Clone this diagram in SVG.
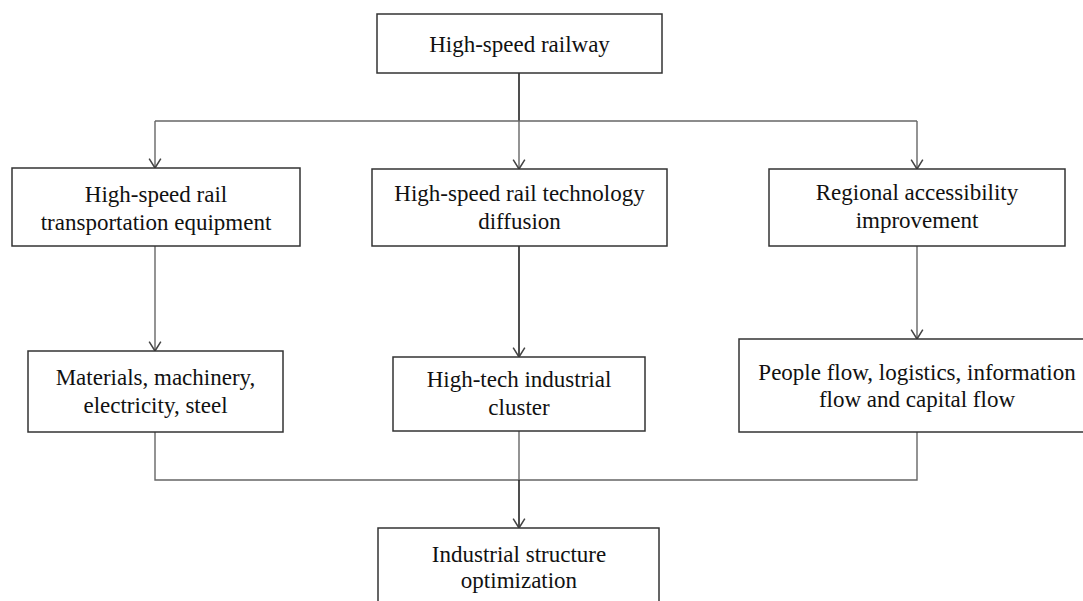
<svg xmlns="http://www.w3.org/2000/svg" width="1083" height="601" viewBox="0 0 1083 601">
<style>
.box{fill:#fff;stroke:#333;stroke-width:1.5}
.t{font-family:"Liberation Serif","Times New Roman",serif;font-size:23px;fill:#111;text-anchor:middle}
.c{fill:none;stroke:#666;stroke-width:1.4}
.d{fill:none;stroke:#222;stroke-width:1.6}
</style>
<defs>
<marker id="ah" markerUnits="userSpaceOnUse" markerWidth="14" markerHeight="14" viewBox="-8 -6 10 12" refX="0" refY="0" orient="auto">
<path d="M-8,-5 L0,0 L-8,5" fill="none" stroke="#444" stroke-width="1.3"/>
</marker>
</defs>
<rect width="1083" height="601" fill="#fff"/>
<g id="connectors">
<path class="d" d="M519,73 V121"/>
<path class="c" d="M155,121 H917"/>
<path class="c" d="M155,121 V168" marker-end="url(#ah)"/>
<path class="c" d="M519,121 V169" marker-end="url(#ah)"/>
<path class="c" d="M917,121 V169" marker-end="url(#ah)"/>
<path class="c" d="M155,246 V351" marker-end="url(#ah)"/>
<path class="d" d="M519,246 V357" marker-end="url(#ah)"/>
<path class="c" d="M917,246 V339" marker-end="url(#ah)"/>
<path class="c" d="M155,432 V480 H917 V432"/>
<path class="c" d="M519,431 V480"/>
<path class="d" d="M519,480 V528" marker-end="url(#ah)"/>
</g>
<g id="n-hsr"><rect class="box" x="377" y="14" width="285" height="59"/><text class="t" x="519.5" y="52">High-speed railway</text></g>
<g id="n-equip"><rect class="box" x="12" y="168" width="288" height="78"/><text class="t" x="156" y="202">High-speed rail</text><text class="t" x="156" y="230">transportation equipment</text></g>
<g id="n-tech"><rect class="box" x="372" y="169" width="295" height="77"/><text class="t" x="519.5" y="201">High-speed rail technology</text><text class="t" x="519.5" y="229">diffusion</text></g>
<g id="n-access"><rect class="box" x="769" y="169" width="296" height="77"/><text class="t" x="917" y="200">Regional accessibility</text><text class="t" x="917" y="228">improvement</text></g>
<g id="n-materials"><rect class="box" x="28" y="351" width="255" height="81"/><text class="t" x="155.5" y="385">Materials, machinery,</text><text class="t" x="155.5" y="413">electricity, steel</text></g>
<g id="n-cluster"><rect class="box" x="393" y="357" width="252" height="74"/><text class="t" x="519" y="387">High-tech industrial</text><text class="t" x="519" y="415">cluster</text></g>
<g id="n-flow"><rect class="box" x="739" y="339" width="356" height="93"/><text class="t" x="917" y="380">People flow, logistics, information</text><text class="t" x="917" y="407">flow and capital flow</text></g>
<g id="n-opt"><rect class="box" x="378" y="528" width="281" height="90"/><text class="t" x="519" y="562">Industrial structure</text><text class="t" x="519" y="588">optimization</text></g>
</svg>
